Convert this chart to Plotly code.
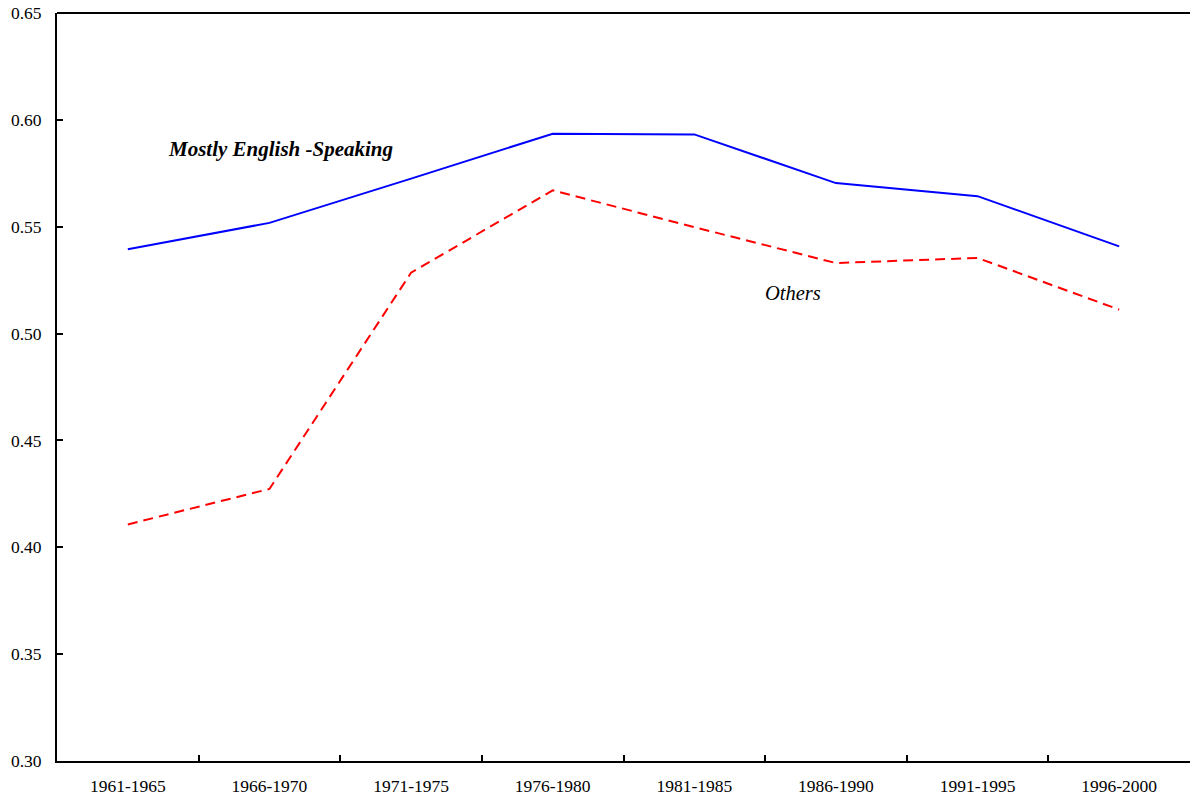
import plotly.graph_objects as go

periods = ["1961-1965", "1966-1970", "1971-1975", "1976-1980",
           "1981-1985", "1986-1990", "1991-1995", "1996-2000"]
english_speaking = [0.5395, 0.5518, 0.5725, 0.5935, 0.5932, 0.5704, 0.5643, 0.5408]
others = [0.4107, 0.4273, 0.5285, 0.5670, 0.5498, 0.5330, 0.5354, 0.5112]
y_ticks = [0.30, 0.35, 0.40, 0.45, 0.50, 0.55, 0.60, 0.65]

serif = "Liberation Serif, Times New Roman, serif"

fig = go.Figure()
fig.add_trace(go.Scatter(
    x=periods, y=english_speaking, mode="lines",
    line=dict(color="#0000FF", width=2), name="Mostly English -Speaking",
))
fig.add_trace(go.Scatter(
    x=periods, y=others, mode="lines",
    line=dict(color="#FF0000", width=2, dash="10px,6px"), name="Others",
))

fig.add_annotation(
    x=0.1977, xref="paper", y=0.5864, yref="y", xanchor="center",
    text="<b><i>Mostly English -Speaking</i></b>", showarrow=False,
    font=dict(family=serif, size=21, color="black"),
)
fig.add_annotation(
    x=0.6496, xref="paper", y=0.519, yref="y", xanchor="center",
    text="<i>Others</i>", showarrow=False,
    font=dict(family=serif, size=20.5, color="black"),
)

# frame line along the top of the plot area
fig.add_shape(type="line", xref="paper", yref="paper",
              x0=0, x1=1, y0=1, y1=1, line=dict(color="black", width=2))

fig.update_layout(
    width=1190, height=798,
    margin=dict(l=57, r=0, t=13, b=37),
    paper_bgcolor="white", plot_bgcolor="white",
    showlegend=False,
    font=dict(family=serif, size=17, color="black"),
)
fig.update_xaxes(
    type="category", range=[-0.5, 7.5],
    showline=True, linecolor="black", linewidth=2,
    ticks="inside", tickson="boundaries", ticklen=6, tickwidth=2, tickcolor="black",
    showgrid=False, zeroline=False, ticklabelstandoff=8,
    tickfont=dict(family=serif, size=17.5),
)
fig.update_yaxes(
    range=[0.30, 0.65], tickvals=y_ticks, tickformat=".2f",
    showline=True, linecolor="black", linewidth=2,
    ticks="inside", ticklen=6, tickwidth=2, tickcolor="black",
    showgrid=False, zeroline=False, ticklabelstandoff=10,
    tickfont=dict(family=serif, size=17.5),
)

fig.write_html("out.html")
